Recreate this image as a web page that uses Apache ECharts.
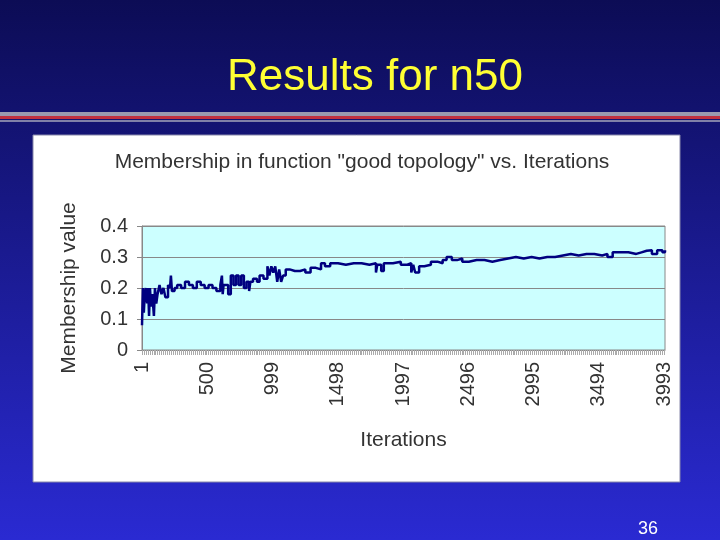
<!DOCTYPE html>
<html>
<head>
<meta charset="utf-8">
<script src="https://cdn.jsdelivr.net/npm/echarts@6/dist/echarts.min.js"></script>
<style>html,body{margin:0;padding:0;}#main{width:720px;height:540px;}</style>
</head>
<body>
<div id="main"></div>
<script>
// iteration labels shown on the x axis
var tickLabels = ['1', '500', '999', '1498', '1997', '2496', '2995', '3494', '3993'];
var lastIteration = 4000;
// [iteration, membership]
var iterations = [1, 8, 15, 22, 30, 40, 48, 55, 62, 70, 80, 92, 100, 110, 120, 135, 150, 165, 180, 200, 215, 222, 230, 250, 270, 300, 330, 360, 390, 420, 450, 480, 510, 540, 570, 600, 612, 618, 625, 640, 660, 680, 700, 720, 740, 760, 780, 800, 820, 830, 850, 880, 900, 930, 960, 975, 990, 1005, 1020, 1035, 1050, 1065, 1080, 1100, 1130, 1170, 1210, 1250, 1290, 1330, 1370, 1400, 1440, 1500, 1560, 1620, 1680, 1740, 1790, 1800, 1830, 1850, 1870, 1920, 1980, 2030, 2060, 2075, 2090, 2120, 2160, 2210, 2260, 2300, 2330, 2370, 2410, 2450, 2500, 2560, 2620, 2680, 2740, 2800, 2860, 2920, 2980, 3040, 3100, 3160, 3220, 3280, 3340, 3400, 3460, 3520, 3560, 3600, 3660, 3720, 3780, 3820, 3860, 3900, 3940, 3980, 4000];
var membership = [0.08, 0.2, 0.12, 0.18, 0.2, 0.15, 0.2, 0.11, 0.2, 0.14, 0.18, 0.11, 0.2, 0.15, 0.18, 0.21, 0.18, 0.2, 0.17, 0.21, 0.2, 0.24, 0.19, 0.2, 0.21, 0.2, 0.22, 0.21, 0.2, 0.22, 0.21, 0.2, 0.21, 0.2, 0.19, 0.21, 0.24, 0.18, 0.21, 0.21, 0.18, 0.24, 0.21, 0.24, 0.21, 0.24, 0.2, 0.22, 0.19, 0.22, 0.23, 0.22, 0.24, 0.23, 0.27, 0.24, 0.27, 0.25, 0.27, 0.22, 0.26, 0.22, 0.24, 0.26, 0.255, 0.255, 0.26, 0.25, 0.265, 0.26, 0.28, 0.27, 0.28, 0.275, 0.28, 0.28, 0.275, 0.28, 0.25, 0.275, 0.255, 0.28, 0.28, 0.285, 0.275, 0.28, 0.25, 0.275, 0.25, 0.27, 0.275, 0.285, 0.28, 0.29, 0.3, 0.29, 0.295, 0.285, 0.29, 0.29, 0.285, 0.29, 0.295, 0.3, 0.295, 0.3, 0.295, 0.3, 0.3, 0.305, 0.31, 0.305, 0.31, 0.31, 0.305, 0.31, 0.3, 0.315, 0.315, 0.31, 0.315, 0.32, 0.322, 0.31, 0.322, 0.315, 0.322, 0.32];

var categories = [];
for (var i = 1; i <= lastIteration; i++) categories.push(String(i));
var points = iterations.map(function (it, k) { return [it - 1, membership[k]]; });

var myChart = echarts.init(document.getElementById('main'));
var font = 'Arial, "Liberation Sans", sans-serif';
var option = {
  backgroundColor: '#1c1c8c',
  graphic: [
    { type: 'rect', z: -10, shape: { x: 0, y: 0, width: 720, height: 540 },
      style: { fill: new echarts.graphic.LinearGradient(0, 0, 0, 1, [
        { offset: 0, color: '#0c0c55' }, { offset: 1, color: '#2a2ad2' }]) } },
    { type: 'text', left: 227, top: 56, style: { text: 'Results for n50', fill: '#ffff33', font: '44px ' + font } },
    { type: 'rect', z: -5, shape: { x: 0, y: 112, width: 720, height: 4 }, style: { fill: '#9a9ab0' } },
    { type: 'rect', z: -5, shape: { x: 0, y: 116, width: 720, height: 3 }, style: { fill: '#c03040' } },
    { type: 'rect', z: -5, shape: { x: 0, y: 120, width: 720, height: 2 }, style: { fill: '#8080a8' } },
    { type: 'rect', z: -4, shape: { x: 33, y: 135, width: 647, height: 347 }, style: { fill: '#ffffff', stroke: '#8888aa' } },
    { type: 'text', left: 638, top: 520, style: { text: '36', fill: '#ffffff', font: '18px ' + font } }
  ],
  title: {
    text: 'Membership in function "good topology" vs. Iterations',
    left: 357, top: 147, textAlign: 'center',
    textStyle: { fontFamily: font, fontWeight: 'normal', fontSize: 21, color: '#333333' }
  },
  grid: { left: 142, right: 55, top: 226, bottom: 190, show: true, backgroundColor: '#ccffff', borderColor: '#888888', borderWidth: 1 },
  xAxis: {
    type: 'category', data: categories, boundaryGap: false,
    name: 'Iterations', nameLocation: 'middle', nameGap: 80,
    nameTextStyle: { fontFamily: font, fontSize: 21, color: '#333333' },
    axisLine: { lineStyle: { color: '#888888' } },
    axisTick: { interval: 14, length: 5, lineStyle: { color: '#aaaaaa' } },
    axisLabel: {
      interval: function (idx, val) { return tickLabels.indexOf(val) >= 0; },
      rotate: 90, fontFamily: font, fontSize: 20, color: '#333333', margin: 12
    }
  },
  yAxis: {
    type: 'value', min: 0, max: 0.4, interval: 0.1,
    name: 'Membership value', nameLocation: 'middle', nameGap: 62,
    nameTextStyle: { fontFamily: font, fontSize: 21, color: '#333333' },
    axisLine: { show: true, lineStyle: { color: '#888888' } },
    axisTick: { show: true, lineStyle: { color: '#888888' } },
    splitLine: { lineStyle: { color: '#888888' } },
    axisLabel: { fontFamily: font, fontSize: 20, color: '#333333', margin: 14,
      formatter: function (v) { return v === 0 ? '0' : v.toFixed(1); } }
  },
  series: [{
    type: 'line', data: points, showSymbol: false, step: 'end',
    lineStyle: { color: '#000080', width: 2.5 }, animation: false
  }]
};
myChart.setOption(option);
</script>
</body>
</html>
